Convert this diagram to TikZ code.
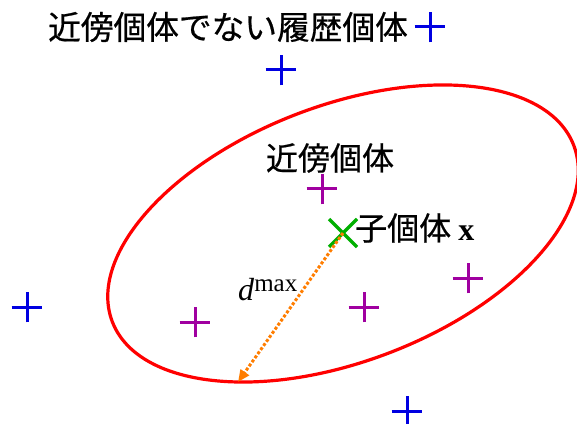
\documentclass[tikz,border=0pt]{standalone}
\usepackage{fontspec}
\setmainfont{Liberation Serif}
\newfontfamily\jp[FakeBold=0.6]{Noto Sans CJK JP}
\usetikzlibrary{shapes.misc,arrows.meta}
\definecolor{cblue}{RGB}{0,0,225}
\definecolor{cmag}{RGB}{160,0,160}
\definecolor{cgreen}{RGB}{0,175,0}
\definecolor{cred}{RGB}{255,0,0}
\definecolor{corange}{RGB}{255,125,0}
\tikzset{
  plusmark/.style={draw=#1, cross out, minimum size=21.9pt, inner sep=0pt, outer sep=0pt, rotate=45, line width=3pt},
  xmark/.style={draw=#1, cross out, minimum size=28pt, inner sep=0pt, outer sep=0pt, line width=3.2pt},
  jptext/.style={inner sep=0pt, font=\jp\fontsize{32}{38}\selectfont},
}
\begin{document}
\begin{tikzpicture}[x=1pt,y=1pt]
\useasboundingbox (0,0) rectangle (577,423);
% ellipse (neighbourhood)
\draw[cred, line width=3.2pt, rotate around={20.9:(343,189.5)}] (343,189.5) ellipse [x radius=247, y radius=128];
% blue: history individuals not in neighbourhood
\node[plusmark=cblue] (b1) at (430,396) {};
\node[plusmark=cblue] (b2) at (281,353) {};
\node[plusmark=cblue] (b3) at (27,116) {};
\node[plusmark=cblue] (b4) at (407,12) {};
% magenta: neighbours
\node[plusmark=cmag] (m1) at (322,234) {};
\node[plusmark=cmag] (m2) at (468,145) {};
\node[plusmark=cmag] (m3) at (364,116) {};
\node[plusmark=cmag] (m4) at (195,101) {};
% child
\node[xmark=cgreen] (child) at (343,190) {};
\coordinate (tip) at (238,41);
\draw[corange, dotted, line width=3pt, -{Triangle[length=12pt,width=10pt]}] (child.center) -- (tip);
% labels
\node[jptext, font=\jp\fontsize{32.7}{38}\selectfont] (t1) at (228,396) {近傍個体でない履歴個体};
\node[jptext] (t2) at (330,265) {近傍個体};
\node[jptext, anchor=west] (t3) at (355,195) {子個体 {\fontspec{Liberation Serif}\bfseries x}};
\node[inner sep=0pt, font=\fontsize{32}{38}\selectfont] (dl) at (268,133) {\textit{d}\textsuperscript{\fontsize{25}{28}\selectfont max}};
\end{tikzpicture}
\end{document}
